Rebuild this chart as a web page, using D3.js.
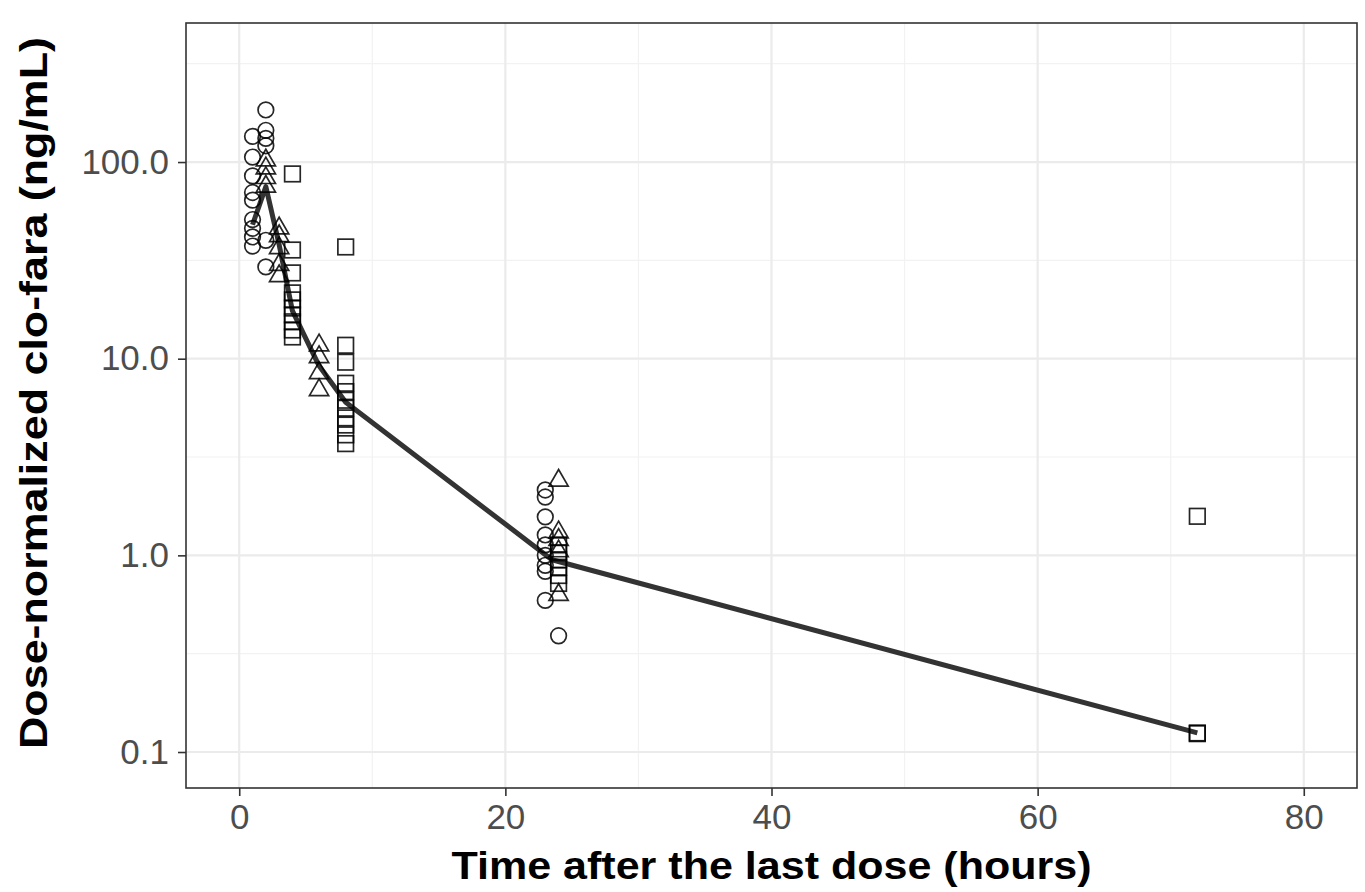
<!DOCTYPE html>
<html>
<head>
<meta charset="utf-8">
<script src="https://cdn.jsdelivr.net/npm/d3@7"></script>
<style>
  html, body { margin: 0; padding: 0; background: #fff; }
  svg { display: block; font-family: "Liberation Sans", Arial, sans-serif; }
</style>
</head>
<body>
<svg id="chart" width="1365" height="892"></svg>
<script>
// observed points, one array per shape group (time in hours, value in ng/mL)
const circleTimes = [1, 1, 1, 1, 1, 1, 1, 1, 1, 2, 2, 2, 2, 2, 2, 23, 23, 23, 23, 23, 23, 23, 23, 23, 24];
const circleValues = [135, 106, 85, 70, 64, 51, 46, 41.6, 37.4, 184, 145, 132, 121, 40, 29.3, 2.15, 1.98, 1.57, 1.27, 1.13, 1.0, 0.89, 0.83, 0.59, 0.39];

const triangleTimes = [2, 2, 2, 2, 3, 3, 3, 3, 3, 6, 6, 6, 6, 24, 24, 24, 24, 24];
const triangleValues = [102, 93, 83, 75, 46, 42, 36.5, 30, 26.3, 11.7, 10.2, 8.46, 6.93, 2.4, 1.31, 1.2, 1.05, 0.63];

const squareTimes = [4, 4, 4, 4, 4, 4, 4, 4, 4, 4, 8, 8, 8, 8, 8, 8, 8, 8, 8, 8, 8, 24, 24, 24, 24, 24, 24, 72, 72, 72];
const squareValues = [87, 35.7, 27.3, 21.6, 19.9, 18.1, 16.7, 15.4, 14.0, 12.9, 37, 11.7, 9.6, 7.5, 6.8, 6.15, 5.6, 5.0, 4.6, 4.1, 3.7, 1.13, 1.03, 0.95, 0.87, 0.79, 0.72, 1.58, 0.125, 0.124];

// summary line
const lineTimes = [1, 2, 3, 4, 6, 8, 23.5, 72];
const lineValues = [48, 75, 38, 17.5, 9.2, 6, 0.95, 0.125];

const xTicks = [0, 20, 40, 60, 80];
const xMinor = [10, 30, 50, 70];
const yTicks = [0.1, 1, 10, 100];
const yMinor = [Math.pow(10, -0.5), Math.pow(10, 0.5), Math.pow(10, 1.5), Math.pow(10, 2.5)];

const svg = d3.select('#chart');
const panel = { left: 186, right: 1357, top: 23, bottom: 788 };

const x = d3.scaleLinear().domain([-4, 84]).range([panel.left, panel.right]);
const y = d3.scaleLog().domain([Math.pow(10, -1.183), Math.pow(10, 2.707)]).range([panel.bottom, panel.top]);

// grid
const grid = svg.append('g');
grid.selectAll('.xminor').data(xMinor).enter().append('line')
  .attr('x1', d => x(d)).attr('x2', d => x(d))
  .attr('y1', panel.top).attr('y2', panel.bottom)
  .attr('stroke', '#f2f2f2').attr('stroke-width', 1.2);
grid.selectAll('.yminor').data(yMinor).enter().append('line')
  .attr('x1', panel.left).attr('x2', panel.right)
  .attr('y1', d => y(d)).attr('y2', d => y(d))
  .attr('stroke', '#f2f2f2').attr('stroke-width', 1.2);
grid.selectAll('.xmajor').data(xTicks).enter().append('line')
  .attr('x1', d => x(d)).attr('x2', d => x(d))
  .attr('y1', panel.top).attr('y2', panel.bottom)
  .attr('stroke', '#ebebeb').attr('stroke-width', 2.2);
grid.selectAll('.ymajor').data(yTicks).enter().append('line')
  .attr('x1', panel.left).attr('x2', panel.right)
  .attr('y1', d => y(d)).attr('y2', d => y(d))
  .attr('stroke', '#ebebeb').attr('stroke-width', 2.2);

// line
const line = d3.line().x((d, i) => x(lineTimes[i])).y(d => y(d));
svg.append('path')
  .datum(lineValues)
  .attr('d', line)
  .attr('fill', 'none')
  .attr('stroke', '#333333')
  .attr('stroke-width', 5)
  .attr('stroke-linejoin', 'round');

// points
const pts = svg.append('g')
  .attr('fill', 'none')
  .attr('stroke', '#000')
  .attr('stroke-opacity', 0.85)
  .attr('stroke-width', 1.7);

pts.selectAll('.c').data(circleValues).enter().append('circle')
  .attr('cx', (d, i) => x(circleTimes[i]))
  .attr('cy', d => y(d))
  .attr('r', 7.8);

const tri = d3.symbol().type(d3.symbolTriangle).size(160);
pts.selectAll('.t').data(triangleValues).enter().append('path')
  .attr('d', tri)
  .attr('transform', (d, i) => `translate(${x(triangleTimes[i])},${y(d)})`);

pts.selectAll('.s').data(squareValues).enter().append('rect')
  .attr('x', (d, i) => x(squareTimes[i]) - 7.8)
  .attr('y', d => y(d) - 7.8)
  .attr('width', 15.6)
  .attr('height', 15.6);

// panel border
svg.append('rect')
  .attr('x', panel.left).attr('y', panel.top)
  .attr('width', panel.right - panel.left)
  .attr('height', panel.bottom - panel.top)
  .attr('fill', 'none')
  .attr('stroke', '#333333')
  .attr('stroke-width', 1.6);

// axes
const xAxis = svg.append('g')
  .attr('transform', `translate(0,${panel.bottom})`)
  .call(d3.axisBottom(x).tickValues(xTicks).tickSize(8).tickPadding(8).tickFormat(d3.format('d')));
const yAxis = svg.append('g')
  .attr('transform', `translate(${panel.left},0)`)
  .call(d3.axisLeft(y).tickValues(yTicks).tickSize(8).tickPadding(9).tickFormat(d3.format('.1f')));

[xAxis, yAxis].forEach(a => {
  a.select('.domain').remove();
  a.selectAll('line').attr('stroke', '#333333').attr('stroke-width', 1.6);
  a.selectAll('text')
    .attr('fill', '#4d4d4d')
    .style('font-size', '35px')
    .style('font-family', '"Liberation Sans", Arial, sans-serif');
});

// titles
svg.append('text')
  .attr('x', (panel.left + panel.right) / 2)
  .attr('y', 879)
  .attr('text-anchor', 'middle')
  .attr('textLength', 640)
  .attr('lengthAdjust', 'spacingAndGlyphs')
  .style('font-size', '39px')
  .style('font-weight', 'bold')
  .attr('fill', '#000')
  .text('Time after the last dose (hours)');

svg.append('text')
  .attr('transform', 'translate(47,393) rotate(-90)')
  .attr('text-anchor', 'middle')
  .attr('textLength', 712)
  .attr('lengthAdjust', 'spacingAndGlyphs')
  .style('font-size', '39px')
  .style('font-weight', 'bold')
  .attr('fill', '#000')
  .text('Dose-normalized clo-fara (ng/mL)');
</script>
</body>
</html>
